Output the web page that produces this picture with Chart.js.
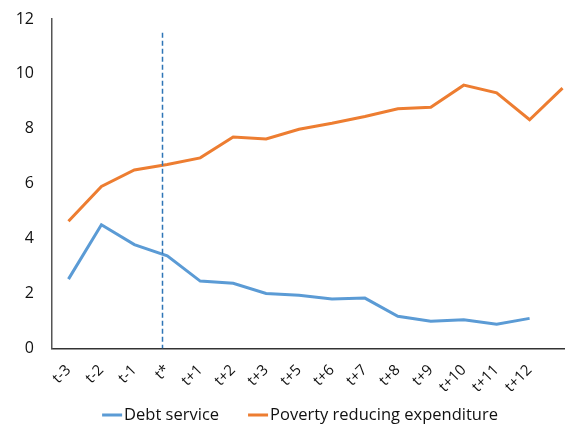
<!DOCTYPE html>
<html>
<head>
<meta charset="utf-8">
<script src="https://cdn.jsdelivr.net/npm/chart.js@4.4.0/dist/chart.umd.min.js"></script>
<style>
  html, body { margin: 0; padding: 0; background: #fff; overflow: hidden; }
  #wrap { width: 600px; height: 427px; }
</style>
</head>
<body>
<div id="wrap"><canvas id="chart" width="600" height="427"></canvas></div>
<script>
const categories = ['t-3', 't-2', 't-1', 't*', 't+1', 't+2', 't+3', 't+5', 't+6', 't+7', 't+8', 't+9', 't+10', 't+11', 't+12', '']
const debtService = [2.52, 4.5, 3.78, 3.37, 2.45, 2.37, 2.0, 1.93, 1.8, 1.83, 1.17, 0.99, 1.04, 0.88, 1.09, null]
const povertyExpenditure = [4.63, 5.9, 6.5, 6.7, 6.94, 7.7, 7.63, 7.98, 8.2, 8.45, 8.73, 8.78, 9.59, 9.31, 8.33, 9.48]
const yTicks = [0, 2, 4, 6, 8, 10, 12]

// vertical marker just before t*
const MARKER_AT = 2.85
const MARKER_TOP = 11.5

const FONT = "'Open Sans', sans-serif"

const markerLine = {
  id: 'markerLine',
  afterDatasetsDraw(chart) {
    const {ctx, scales: {x, y}} = chart
    const px = Math.round(x.getPixelForValue(MARKER_AT)) + 0.5
    ctx.save()
    ctx.strokeStyle = '#2E75B6'
    ctx.lineWidth = 1.5
    ctx.setLineDash([5, 3])
    ctx.beginPath()
    ctx.moveTo(px, y.getPixelForValue(MARKER_TOP))
    ctx.lineTo(px, y.getPixelForValue(0))
    ctx.stroke()
    ctx.restore()
  }
}

// compact legend under the axis labels: short line, small gap, text
const bottomLegend = {
  id: 'bottomLegend',
  afterDraw(chart) {
    const ctx = chart.ctx
    const lineW = 20, gap = 2, itemGap = 29, y = 415
    ctx.save()
    ctx.font = '16.5px ' + FONT
    ctx.textBaseline = 'middle'
    const items = chart.data.datasets.map(ds => ({
      text: ds.label,
      color: ds.borderColor,
      w: ctx.measureText(ds.label).width
    }))
    const total = items.reduce((s, it) => s + lineW + gap + it.w, 0) + itemGap * (items.length - 1)
    let x = (chart.width - total) / 2
    items.forEach(it => {
      ctx.fillStyle = it.color
      ctx.fillRect(x, y - 1.5, lineW, 3)
      x += lineW + gap
      ctx.fillStyle = '#111'
      ctx.fillText(it.text, x, y)
      x += it.w + itemGap
    })
    ctx.restore()
  }
}

new Chart(document.getElementById('chart').getContext('2d'), {
  type: 'line',
  data: {
    labels: categories,
    datasets: [{
      label: 'Debt service',
      data: debtService,
      borderColor: '#5B9BD5',
      backgroundColor: '#5B9BD5',
      borderWidth: 3,
      pointRadius: 0,
      tension: 0
    }, {
      label: 'Poverty reducing expenditure',
      data: povertyExpenditure,
      borderColor: '#ED7D31',
      backgroundColor: '#ED7D31',
      borderWidth: 3,
      pointRadius: 0,
      tension: 0
    }]
  },
  options: {
    responsive: false,
    animation: false,
    layout: {padding: {top: 19, left: 0, right: 21, bottom: 18}},
    plugins: {
      tooltip: {enabled: false},
      legend: {display: false}
    },
    scales: {
      x: {
        offset: true,
        grid: {display: false, drawTicks: false, offset: true},
        border: {color: '#333', width: 1.5},
        ticks: {
          color: '#111',
          font: {family: FONT, size: 15},
          minRotation: 45,
          maxRotation: 45,
          autoSkip: false,
          padding: 13
        }
      },
      y: {
        min: 0,
        max: 12,
        grid: {display: false, drawTicks: false},
        border: {color: '#555', width: 1.5},
        afterBuildTicks(axis) {
          axis.ticks = yTicks.map(v => ({value: v}))
        },
        afterFit(axis) {
          axis.width = 52
          axis.paddingTop = 0
          axis.paddingBottom = 0
        },
        ticks: {
          color: '#111',
          font: {family: FONT, size: 16},
          padding: 18
        }
      }
    }
  },
  plugins: [markerLine, bottomLegend]
})
</script>
</body>
</html>
